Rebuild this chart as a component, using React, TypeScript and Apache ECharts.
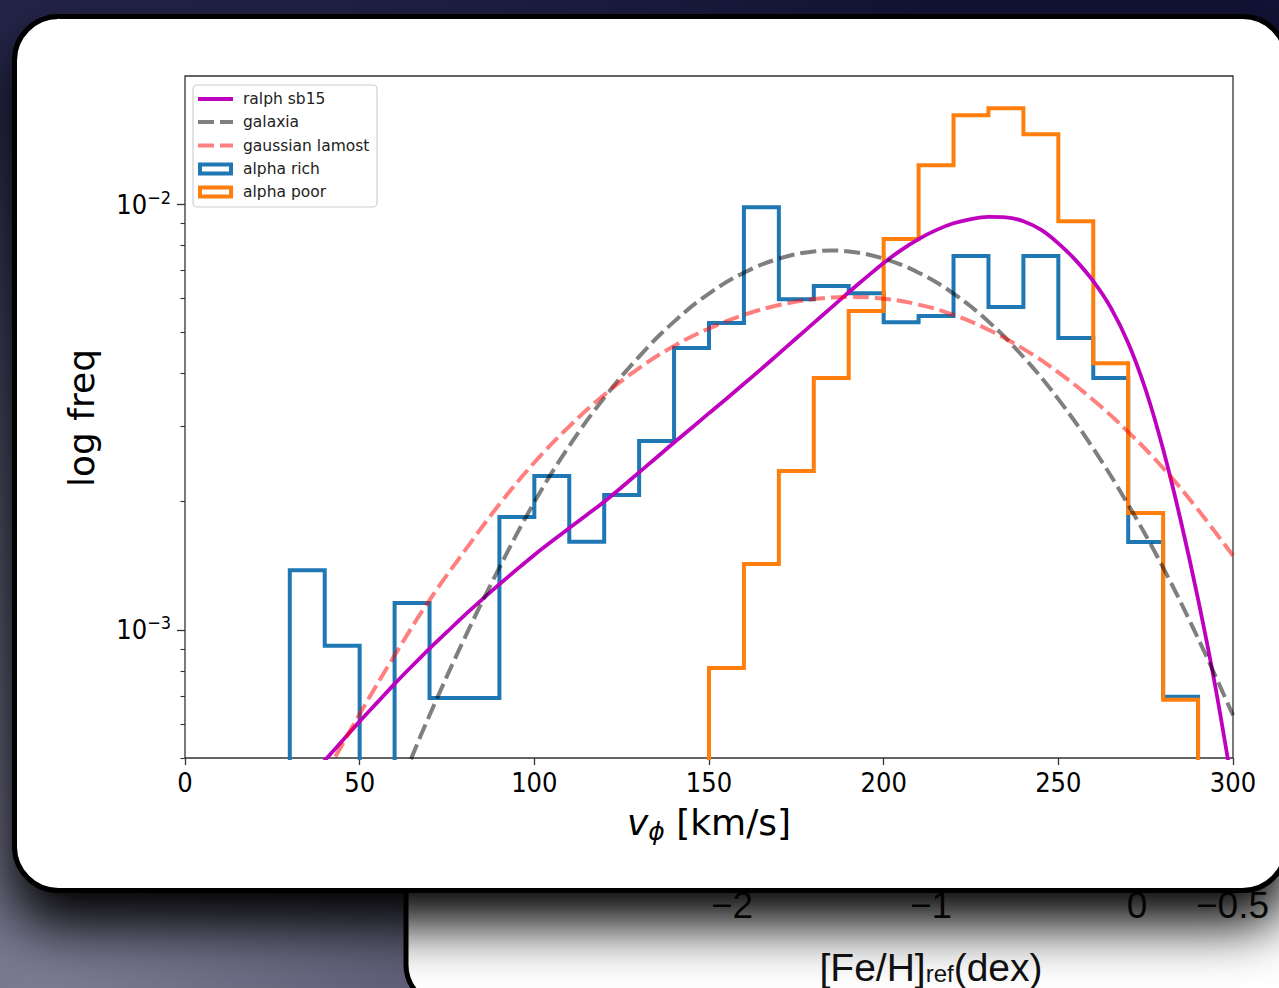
import React, { useEffect, useRef } from "react";
import * as echarts from "echarts";

// ---------- data ----------
const binStarts = [0, 10, 20, 30, 40, 50, 60, 70, 80, 90, 100, 110, 120, 130, 140, 150, 160, 170, 180, 190, 200, 210, 220, 230, 240, 250, 260, 270, 280, 290];
const binEnd = 300;
const alphaRich = [0, 0, 0, 1.38e-3, 9.17e-4, 0, 1.157e-3, 6.92e-4, 6.92e-4, 1.842e-3, 2.298e-3, 1.61e-3, 2.074e-3, 2.778e-3, 4.59e-3, 5.256e-3, 9.84e-3, 5.98e-3, 6.42e-3, 6.18e-3, 5.28e-3, 5.46e-3, 7.55e-3, 5.73e-3, 7.55e-3, 4.85e-3, 3.905e-3, 1.609e-3, 6.96e-4, 0];
const alphaPoor = [0, 0, 0, 0, 0, 0, 0, 0, 0, 0, 0, 0, 0, 0, 0, 8.14e-4, 1.428e-3, 2.361e-3, 3.905e-3, 5.61e-3, 8.28e-3, 1.234e-2, 1.618e-2, 1.68e-2, 1.459e-2, 9.12e-3, 4.23e-3, 1.882e-3, 6.85e-4, 0];

// model curves as log10(freq)
const ralphV = [35, 40, 45, 50, 55, 60, 65, 70, 75, 80, 85, 90, 95, 100, 105, 110, 115, 120, 125, 130, 135, 140, 145, 150, 155, 160, 165, 170, 175, 180, 185, 190, 195, 200, 205, 210, 215, 220, 225, 230, 235, 240, 245, 250, 255, 260, 265, 270, 275, 280, 285, 290, 295, 300];
const ralphLogF = [-3.353, -3.307, -3.261, -3.215, -3.171, -3.127, -3.085, -3.044, -3.005, -2.966, -2.929, -2.893, -2.858, -2.824, -2.792, -2.761, -2.730, -2.699, -2.665, -2.630, -2.595, -2.560, -2.526, -2.491, -2.457, -2.422, -2.387, -2.351, -2.315, -2.279, -2.243, -2.207, -2.172, -2.138, -2.108, -2.082, -2.061, -2.045, -2.035, -2.030, -2.031, -2.040, -2.060, -2.092, -2.132, -2.181, -2.243, -2.326, -2.436, -2.576, -2.742, -2.928, -3.136, -3.376];

const galaxiaV = [60, 65, 70, 80, 90, 100, 110, 120, 130, 140, 150, 160, 170, 180, 185, 190, 200, 210, 220, 230, 240, 250, 260, 270, 280, 290, 300];
const galaxiaF = [3.98e-4, 5.04e-4, 6.3e-4, 9.55e-4, 1.4e-3, 1.995e-3, 2.704e-3, 3.508e-3, 4.385e-3, 5.297e-3, 6.166e-3, 6.902e-3, 7.447e-3, 7.745e-3, 7.78e-3, 7.745e-3, 7.447e-3, 6.902e-3, 6.166e-3, 5.297e-3, 4.375e-3, 3.483e-3, 2.667e-3, 1.968e-3, 1.4e-3, 9.55e-4, 6.3e-4];

const lamostV = [40, 50, 60, 70, 80, 90, 100, 110, 120, 130, 140, 150, 160, 170, 180, 190, 200, 210, 220, 230, 240, 250, 260, 270, 280, 290, 300];
const lamostF = [4.54e-4, 6.34e-4, 8.71e-4, 1.175e-3, 1.531e-3, 1.972e-3, 2.472e-3, 3.006e-3, 3.565e-3, 4.121e-3, 4.645e-3, 5.105e-3, 5.495e-3, 5.794e-3, 5.984e-3, 6.053e-3, 5.998e-3, 5.808e-3, 5.495e-3, 5.07e-3, 4.571e-3, 4.027e-3, 3.467e-3, 2.917e-3, 2.399e-3, 1.914e-3, 1.493e-3];

const yRange = [5e-4, 2e-2];
const yMajorTicks = [1e-3, 1e-2];
const yMinorTicks = [5e-4, 6e-4, 7e-4, 8e-4, 9e-4, 2e-3, 3e-3, 4e-3, 5e-3, 6e-3, 7e-3, 8e-3, 9e-3];
const xRange = [0, 300];
const xStep = 50;

const legendItems = ["ralph sb15", "galaxia", "gaussian lamost", "alpha rich", "alpha poor"];
const otherSlideTicks = ["\u22122", "\u22121", "0", "\u22120.5"];

// ---------- helpers ----------
const FLOOR = -4;
const lg = (f: number) => (f > 0 ? Math.log10(f) : FLOOR);
const histData = (vals: number[]) => [
  ...binStarts.map((x, i) => [x, lg(vals[i])]),
  [binEnd, FLOOR],
];
const curveData = (xs: number[], fs: number[]) => xs.map((x, i) => [x, lg(fs[i])]);
const curveDataLog = (xs: number[], ls: number[]) => xs.map((x, i) => [x, ls[i]]);

function fontAvailable(name: string) {
  try {
    const ctx = document.createElement("canvas").getContext("2d");
    if (!ctx) return false;
    const s = "abcdefghijklmnopqrstuvwxyz0123456789";
    ctx.font = "40px monospace";
    const w1 = ctx.measureText(s).width;
    ctx.font = `40px "${name}", monospace`;
    const w2 = ctx.measureText(s).width;
    return Math.abs(w1 - w2) > 0.5;
  } catch (e) {
    return false;
  }
}

function buildOption() {
  const cond = fontAvailable("DejaVu Sans Condensed");
  const tickFont = cond ? "DejaVu Sans Condensed" : "DejaVu Sans";
  const tickSize = cond ? 27 : 25;
  const F = "DejaVu Sans";
  const HF = "Liberation Sans";

  const legendRowsY = [99, 122, 145.5, 169, 192];
  const legendEls: any[] = [
    {
      type: "rect",
      shape: { x: 193, y: 85, width: 184, height: 122, r: 4 },
      style: { fill: "rgba(255,255,255,0.85)", stroke: "#cfcfcf", lineWidth: 1.2 },
    },
    { type: "line", shape: { x1: 198, y1: legendRowsY[0], x2: 233, y2: legendRowsY[0] }, style: { stroke: "#bf00bf", lineWidth: 4 } },
    { type: "line", shape: { x1: 198, y1: legendRowsY[1], x2: 233, y2: legendRowsY[1] }, style: { stroke: "rgba(0,0,0,0.5)", lineWidth: 4, lineDash: [16, 6] } },
    { type: "line", shape: { x1: 198, y1: legendRowsY[2], x2: 233, y2: legendRowsY[2] }, style: { stroke: "rgba(255,0,0,0.5)", lineWidth: 4, lineDash: [16, 6] } },
    { type: "rect", shape: { x: 200, y: legendRowsY[3] - 4.5, width: 31, height: 9 }, style: { fill: "#fff", stroke: "#1f77b4", lineWidth: 4 } },
    { type: "rect", shape: { x: 200, y: legendRowsY[4] - 4.5, width: 31, height: 9 }, style: { fill: "#fff", stroke: "#ff7f0e", lineWidth: 4 } },
    ...legendItems.map((t, i) => ({
      type: "text",
      x: 243,
      y: legendRowsY[i],
      style: { text: t, fontSize: 15.5, fontFamily: F, fill: "#222", align: "left", verticalAlign: "middle" },
    })),
  ];

  const graphic: any[] = [
    {
      type: "rect",
      z: -100,
      silent: true,
      shape: { x: 0, y: 0, width: 1279, height: 988 },
      style: {
        fill: new echarts.graphic.RadialGradient(40, 1010, 1350, [
          { offset: 0, color: "#7c7c93" },
          { offset: 0.35, color: "#56576f" },
          { offset: 0.7, color: "#25264a" },
          { offset: 1, color: "#121335" },
        ], true),
      },
    },
    {
      type: "rect",
      z: -90,
      shape: { x: 406, y: 600, width: 1000, height: 405, r: 40 },
      style: { fill: "#ffffff", stroke: "#000", lineWidth: 5 },
    },
    { type: "text", z: -85, x: 732, y: 905, style: { text: otherSlideTicks[0], fontSize: 37, fontFamily: HF, fill: "#111", align: "center", verticalAlign: "middle" } },
    { type: "text", z: -85, x: 931, y: 905, style: { text: otherSlideTicks[1], fontSize: 37, fontFamily: HF, fill: "#111", align: "center", verticalAlign: "middle" } },
    { type: "text", z: -85, x: 1137, y: 905, style: { text: otherSlideTicks[2], fontSize: 37, fontFamily: HF, fill: "#111", align: "center", verticalAlign: "middle" } },
    { type: "text", z: -85, x: 1196, y: 905, style: { text: otherSlideTicks[3], fontSize: 37, fontFamily: HF, fill: "#111", align: "left", verticalAlign: "middle" } },
    {
      type: "text",
      z: -85,
      x: 931,
      y: 967,
      style: {
        text: "{a|[Fe/H]}{b|ref}{a|(dex)}",
        align: "center",
        verticalAlign: "middle",
        rich: {
          a: { fontSize: 39, fontFamily: HF, fill: "#111", lineHeight: 40 },
          b: { fontSize: 24, fontFamily: HF, fill: "#111", padding: [12, 0, 0, 0], lineHeight: 26 },
        },
      },
    },
    {
      type: "rect",
      z: -70,
      shape: { x: 14.5, y: 16.5, width: 1272, height: 874, r: 44 },
      style: {
        fill: "#ffffff",
        stroke: "#000",
        lineWidth: 5,
        shadowBlur: 55,
        shadowColor: "rgba(0,0,0,1)",
        shadowOffsetY: 32,
      },
    },
    {
      type: "text",
      z: 10,
      x: 81,
      y: 418,
      rotation: Math.PI / 2,
      style: { text: "log freq", fontSize: 36, fontFamily: F, fill: "#000", align: "center", verticalAlign: "middle" },
    },
    {
      type: "text",
      z: 10,
      x: 709,
      y: 822,
      style: {
        text: "{v|v}{p|\u03d5}{t| [km/s]}",
        align: "center",
        verticalAlign: "middle",
        rich: {
          v: { fontSize: 36, fontStyle: "italic", fontFamily: F, fill: "#000" },
          p: { fontSize: 25, fontStyle: "italic", fontFamily: F, fill: "#000", padding: [18, 0, 0, 0] },
          t: { fontSize: 36, fontFamily: F, fill: "#000" },
        },
      },
    },
    { type: "group", z: 50, children: legendEls.map((e) => ({ ...e, z: 50 })) },
  ];

  const yMin = Math.log10(yRange[0]);
  const yMax = Math.log10(yRange[1]);

  return {
    animation: false,
    backgroundColor: "transparent",
    grid: {
      left: 185,
      right: 46,
      top: 76,
      bottom: 230,
      show: true,
      borderColor: "#333",
      borderWidth: 1.3,
      backgroundColor: "transparent",
      containLabel: false,
    },
    xAxis: {
      type: "value",
      min: xRange[0],
      max: xRange[1],
      interval: xStep,
      axisLine: { show: false },
      splitLine: { show: false },
      axisTick: { show: true, inside: false, length: 7, lineStyle: { color: "#333", width: 1.3 } },
      axisLabel: { show: true, fontSize: tickSize, fontFamily: tickFont, color: "#000", margin: 11 },
    },
    yAxis: [
      {
        type: "value",
        position: "left",
        min: yMin,
        max: yMax,
        axisLine: { show: false },
        splitLine: { show: false },
        axisTick: {
          show: true,
          inside: false,
          length: 8,
          lineStyle: { color: "#333", width: 1.3 },
          customValues: yMajorTicks.map((v) => Math.log10(v)),
        },
        axisLabel: {
          show: true,
          margin: 14,
          customValues: yMajorTicks.map((v) => Math.log10(v)),
          formatter: (v: number) => `{b|10}{s|\u2212${-Math.round(v)}}`,
          rich: {
            b: { fontSize: tickSize, fontFamily: tickFont, color: "#000" },
            s: { fontSize: 18, fontFamily: tickFont, color: "#000", padding: [0, 0, 14, 0] },
          },
        },
      },
      {
        type: "value",
        position: "left",
        offset: 0,
        min: yMin,
        max: yMax,
        axisLine: { show: false },
        splitLine: { show: false },
        axisLabel: { show: false },
        axisTick: {
          show: true,
          inside: false,
          length: 4.5,
          lineStyle: { color: "#333", width: 1.1 },
          customValues: yMinorTicks.map((v) => Math.log10(v)),
        },
      },
    ],
    series: [
      {
        type: "line",
        name: legendItems[3],
        data: histData(alphaRich),
        step: "end",
        symbol: "none",
        clip: true,
        z: 2,
        lineStyle: { color: "#1f77b4", width: 4, join: "miter" },
      },
      {
        type: "line",
        name: legendItems[4],
        data: histData(alphaPoor),
        step: "end",
        symbol: "none",
        clip: true,
        z: 3,
        lineStyle: { color: "#ff7f0e", width: 4, join: "miter" },
      },
      {
        type: "line",
        name: legendItems[0],
        data: curveDataLog(ralphV, ralphLogF),
        smooth: 0.3,
        symbol: "none",
        clip: true,
        z: 4,
        lineStyle: { color: "#bf00bf", width: 3.8 },
      },
      {
        type: "line",
        name: legendItems[1],
        data: curveData(galaxiaV, galaxiaF),
        smooth: 0.4,
        symbol: "none",
        clip: true,
        z: 5,
        lineStyle: { color: "rgba(0,0,0,0.5)", width: 4, type: [16, 6] },
      },
      {
        type: "line",
        name: legendItems[2],
        data: curveData(lamostV, lamostF),
        smooth: 0.4,
        symbol: "none",
        clip: true,
        z: 6,
        lineStyle: { color: "rgba(255,0,0,0.5)", width: 4, type: [16, 6] },
      },
    ],
    graphic,
  };
}

export default function App() {
  const ref = useRef<HTMLDivElement>(null);
  useEffect(() => {
    document.body.style.margin = "0";
    const chart = echarts.init(ref.current as HTMLDivElement, null, { renderer: "svg", width: 1279, height: 988 });
    chart.setOption(buildOption() as any);
    return () => chart.dispose();
  }, []);
  return <div ref={ref} style={{ position: "absolute", left: 0, top: 0, width: 1279, height: 988 }} />;
}
